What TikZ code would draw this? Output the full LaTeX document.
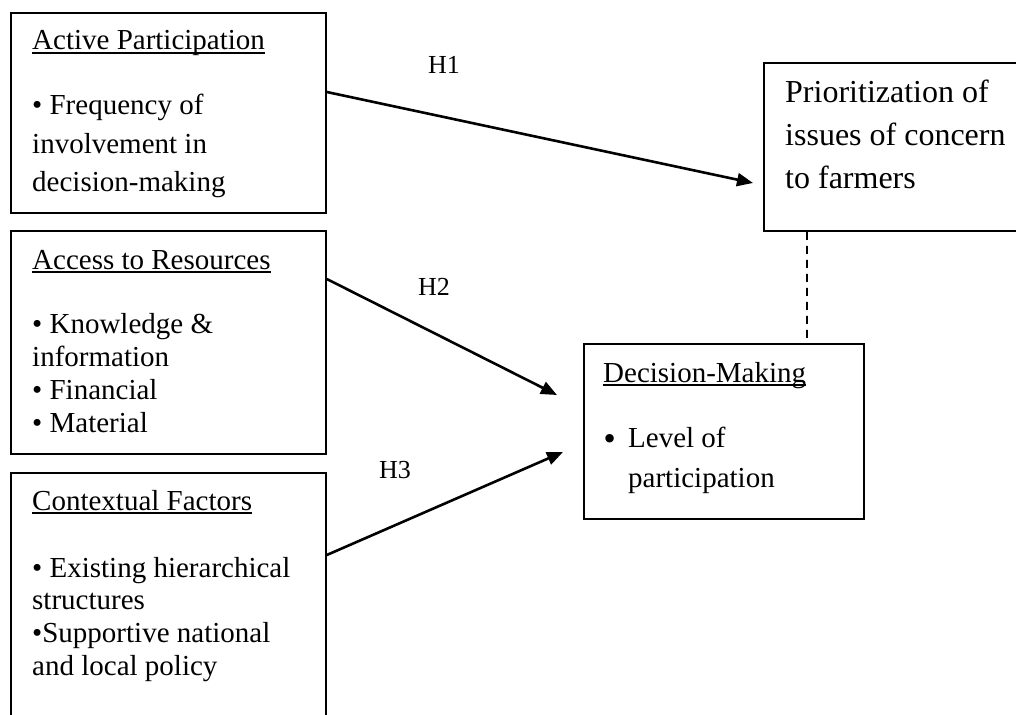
\documentclass[tikz,border=0pt]{standalone}
\usepackage{fontspec}
\setmainfont{Liberation Serif}
\newfontfamily\dejavu{DejaVu Sans}
\usetikzlibrary{arrows.meta}
\newcommand\myul[1]{\setbox0\hbox{#1}\rlap{\rule[-4bp]{\wd0}{1.8bp}}\box0}
\newcommand\boxfont[1]{\fontsize{29bp}{#1}\selectfont}
\begin{document}
\begin{tikzpicture}[x=1bp,y=-1bp,
 box/.style={draw, line width=1.8bp, anchor=north west, inner sep=0pt},
 txt/.style={anchor=base west, inner sep=0pt},
 hyp/.style={font=\fontsize{26bp}{30bp}\selectfont, inner sep=0pt},
 link/.style={line width=2.6bp, -{Triangle[length=16bp,width=13bp]}},
 assoc/.style={line width=1.8bp, dash pattern=on 8bp off 6bp}]
\useasboundingbox (0,0) rectangle (1016,715);
\clip (0,0) rectangle (1016,715);
% boxes
\node[box, minimum width=315bp, minimum height=200bp] (ap) at (10,12) {};
\node[box, minimum width=315bp, minimum height=223bp] (ar) at (10,230) {};
\node[box, minimum width=315bp, minimum height=300bp] (cf) at (10,472) {};
\node[box, minimum width=300bp, minimum height=168bp] (pr) at (763,62) {};
\node[box, minimum width=280bp, minimum height=175bp] (dm) at (583,343) {};
% texts
\node[txt] (apt) at (32,50) {\boxfont{38.5bp}\begin{tabular}[t]{@{}l@{}}\myul{Active Participation}\\[26.5bp]
• Frequency of\\ involvement in\\ decision-making\end{tabular}};
\node[txt] (art) at (32,269) {\boxfont{33.3bp}\begin{tabular}[t]{@{}l@{}}\myul{Access to Resources}\\[30.7bp]
• Knowledge \&\\ information\\ • Financial\\ • Material\end{tabular}};
\node[txt] (cft) at (32,510) {\boxfont{32.7bp}\begin{tabular}[t]{@{}l@{}}\myul{Contextual Factors}\\[34.3bp]
• Existing hierarchical\\ structures\\ •Supportive national\\ and local policy\end{tabular}};
\node[txt] (prt) at (785,103) {\fontsize{32bp}{43bp}\selectfont\begin{tabular}[t]{@{}l@{}}Prioritization of\\ issues of concern\\ to farmers\end{tabular}};
\node[txt] (dmt) at (603,382) {\boxfont{40bp}\begin{tabular}[t]{@{}l@{}l@{}}\multicolumn{2}{@{}l@{}}{\myul{Decision-Making}}\\[25bp]
\makebox[25bp][l]{\hspace*{-2bp}\raisebox{-2bp}{\dejavu •}} & Level of\\ & participation\end{tabular}};
% hypothesis labels
\node[hyp] (h1) at (444,65) {H1};
\node[hyp] (h2) at (434,287) {H2};
\node[hyp] (h3) at (395,470) {H3};
% connectors
\coordinate (t1) at (753,183);
\coordinate (t2) at (557,395);
\coordinate (t3) at (563,452);
\draw[link] ([yshift=-80bp]ap.north east) -- (t1);
\draw[link] ([yshift=-49bp]ar.north east) -- (t2);
\draw[link] ([yshift=-83bp]cf.north east) -- (t3);
\draw[assoc] ([xshift=44bp]pr.south west) -- ([xshift=224bp]dm.north west);
\end{tikzpicture}
\end{document}
